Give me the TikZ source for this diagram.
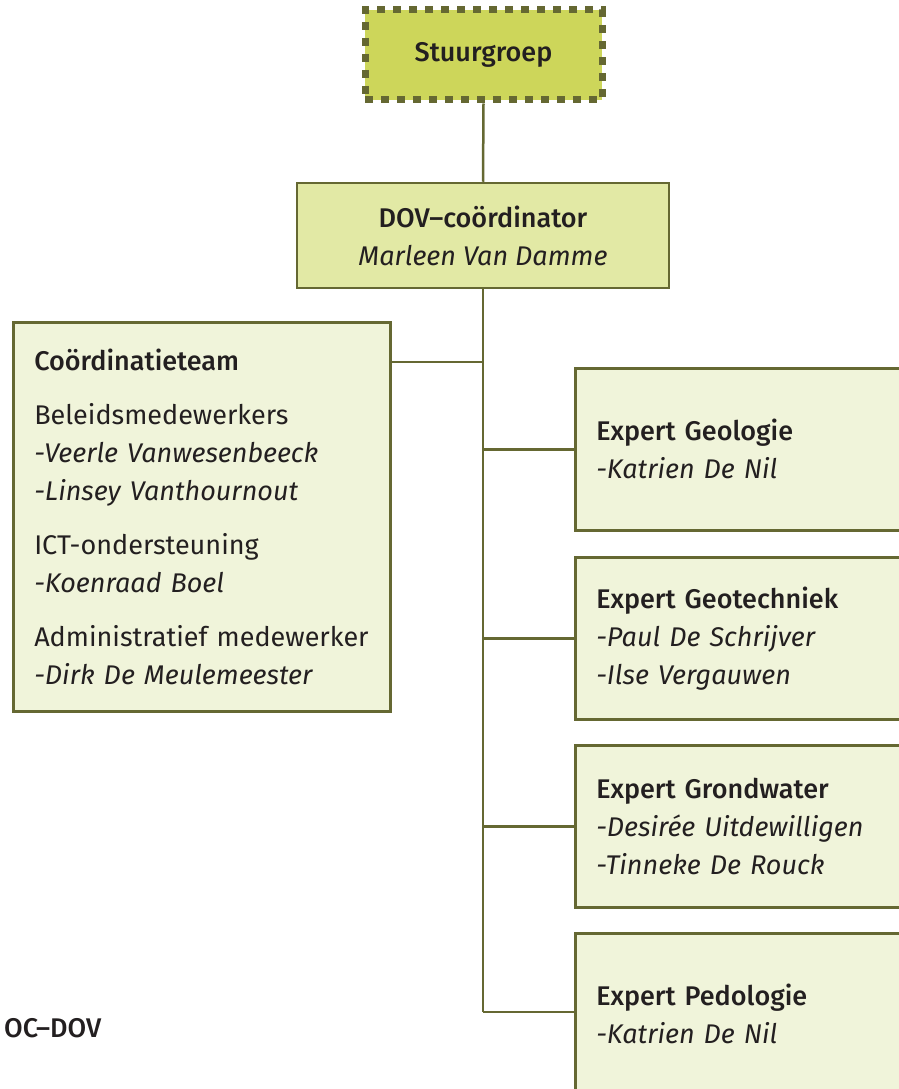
\documentclass[tikz,border=0pt]{standalone}
\usepackage{fontspec}
\setmainfont{Fira Sans}[BoldFont={Fira Sans Medium}]
\definecolor{olive}{HTML}{656832}
\definecolor{sgfill}{HTML}{CDD65A}
\definecolor{dovfill}{HTML}{E2E9A5}
\definecolor{boxfill}{HTML}{F0F4DA}
\definecolor{txt}{HTML}{231F20}
\newcommand{\tsz}{\fontsize{27}{38}\selectfont}
\newcommand{\hd}[1]{{\bfseries #1}}
\newcommand{\nm}[1]{{\itshape #1}}
\tikzset{
  conn/.style={draw=olive, line width=2.5pt},
  sgbox/.style={draw=olive, fill=sgfill, line width=7pt, dash pattern=on 8pt off 8pt,
    minimum width=237pt, minimum height=90pt, inner sep=0pt, text=txt, font=\tsz},
  dovbox/.style={draw=olive, fill=dovfill, line width=2.5pt, minimum width=372pt,
    minimum height=105pt, inner sep=0pt, align=center, text=txt, font=\tsz},
  plainbox/.style={draw=olive, fill=boxfill, line width=2.5pt, anchor=north west,
    inner xsep=21pt, inner ysep=0pt, align=left, text=txt, font=\tsz},
  coordbox/.style={plainbox, minimum width=377pt, minimum height=389pt, text width=335pt},
  expbox/.style={plainbox, minimum width=345pt, minimum height=162pt, text width=303pt},
  lbl/.style={text=txt, inner sep=0pt, font=\tsz}
}
\begin{document}
\begin{tikzpicture}[x=1pt,y=-1pt]
\clip (0,0) rectangle (899,1089);
\fill[white] (0,0) rectangle (899,1089);
% trunk coordinates
\coordinate (jc) at (483,362);
\coordinate (jend) at (483,1012);
% nodes
\node[sgbox] (sg) at (483.5,55) {\hd{Stuurgroep}};
\node[dovbox] (dov) at (483,235.5) {\hd{DOV–coördinator}\\\nm{Marleen Van Damme}};
\node[coordbox] (coord) at (12,321) {\hd{Coördinatieteam}\\[16pt]
Beleidsmedewerkers\\\nm{-Veerle Vanwesenbeeck}\\\nm{-Linsey Vanthournout}\\[16pt]
ICT-ondersteuning\\\nm{-Koenraad Boel}\\[16pt]
Administratief medewerker\\\nm{-Dirk De Meulemeester}};
\node[expbox] (geo) at (574,367) {\hd{Expert Geologie}\\\nm{-Katrien De Nil}};
\node[expbox] (geot) at (574,556) {\hd{Expert Geotechniek}\\\nm{-Paul De Schrijver}\\\nm{-Ilse Vergauwen}};
\node[expbox] (grond) at (574,744) {\hd{Expert Grondwater}\\\nm{-Desirée Uitdewilligen}\\\nm{-Tinneke De Rouck}};
\node[expbox] (pedo) at (574,932) {\hd{Expert Pedologie}\\\nm{-Katrien De Nil}};
\node[lbl, anchor=base west] (ocdov) at (4,1037) {\hd{OC–DOV}};
% connectors
\draw[conn] (sg.south) -- (dov.north);
\draw[conn] (dov.south) -- (jend);
\draw[conn] (jc) -- (coord.east |- jc);
\draw[conn] (geo.west -| jc) -- (geo.west);
\draw[conn] (geot.west -| jc) -- (geot.west);
\draw[conn] (grond.west -| jc) -- (grond.west);
\draw[conn] (jend) -- (pedo.west |- jend);
\end{tikzpicture}
\end{document}
